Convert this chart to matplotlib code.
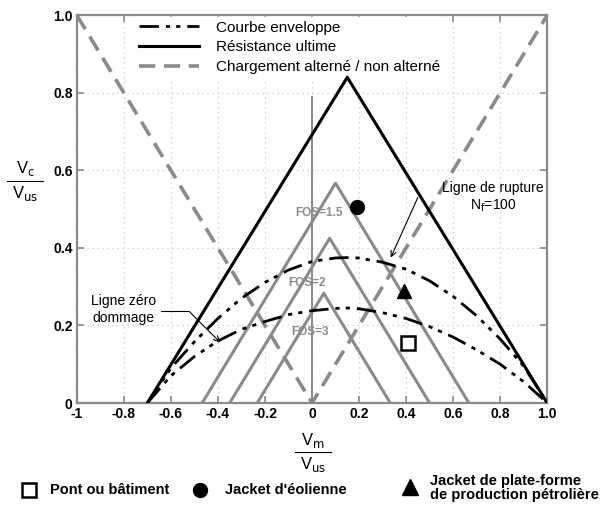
import numpy as np
import matplotlib
matplotlib.use("Agg")
import matplotlib.pyplot as plt

plt.rcParams['font.family'] = ['Liberation Sans', 'DejaVu Sans']

# resistance ultime (triangle)
ult_x = [-0.7, 0.15, 1.0]
ult_y = [0.0, 0.84, 0.0]

# chargement alterne / non alterne
alt_x = [-1.0, 0.0, 1.0]
alt_y = [1.0, 0.0, 1.0]

# FOS triangles
fos_labels = ["FOS=1.5", "FOS=2", "FOS=3"]
fos_x = [[-0.467, 0.1, 0.667], [-0.35, 0.075, 0.5], [-0.233, 0.05, 0.333]]
fos_y = [[0.0, 0.567, 0.0], [0.0, 0.425, 0.0], [0.0, 0.283, 0.0]]
fos_text_pos = [(0.03, 0.49), (-0.02, 0.31), (-0.01, 0.184)]

# courbes enveloppes
env_x = [-0.7, -0.6, -0.5, -0.4, -0.3, -0.2, -0.1, 0.0, 0.1, 0.15, 0.2,
         0.3, 0.4, 0.5, 0.6, 0.7, 0.8, 0.9, 1.0]
env_up = [0.0, 0.09, 0.158, 0.218, 0.27, 0.311, 0.343, 0.365, 0.374, 0.375,
          0.374, 0.363, 0.345, 0.315, 0.275, 0.225, 0.165, 0.095, 0.0]
env_lo = [0.0, 0.07, 0.12, 0.16, 0.19, 0.21, 0.228, 0.238, 0.244, 0.245,
          0.243, 0.233, 0.218, 0.197, 0.17, 0.137, 0.1, 0.055, 0.0]

# structures
pont = (0.41, 0.154)
eolienne = (0.19, 0.506)
plateforme = (0.393, 0.289)

grey = '#8a8a8a'
env_dash = (7, 2.5, 1.5, 2.2, 1.5, 2.5)

fig = plt.figure(figsize=(6.0, 5.17), dpi=100)
ax = fig.add_axes([0.128, 0.2205, 0.784, 0.75])

ax.plot(env_x, env_up, color='black', lw=2.0, dashes=env_dash,
        label='Courbe enveloppe', zorder=4)
ax.plot(env_x, env_lo, color='black', lw=2.0, dashes=env_dash, zorder=4)
ax.plot(ult_x, ult_y, color='black', lw=2.2, label='Résistance ultime', zorder=4)
ax.plot(alt_x, alt_y, color=grey, lw=2.6, dashes=(4.5, 2.4),
        label='Chargement alterné / non alterné', zorder=3)
for xs, ys in zip(fos_x, fos_y):
    ax.plot(xs, ys, color=grey, lw=2.2, zorder=3)
ax.plot([0, 0], [0, 0.79], color=grey, lw=1.4, zorder=2)

for lab, (tx, ty) in zip(fos_labels, fos_text_pos):
    ax.text(tx, ty, lab, color=grey, fontsize=8.5, fontweight='bold',
            ha='center', va='center', zorder=5)

ax.plot(*pont, marker='s', ms=10, mfc='white', mec='black', mew=1.8, zorder=6)
ax.plot(*eolienne, marker='o', ms=10, color='black', zorder=6)
ax.plot(*plateforme, marker='^', ms=10, color='black', zorder=6)

ax.text(0.77, 0.53, 'Ligne de rupture\nN$_{\\mathrm{f}}$=100', ha='center',
        va='center', fontsize=10, zorder=7)
ax.annotate('', xy=(0.335, 0.375), xytext=(0.45, 0.53),
            arrowprops=dict(arrowstyle='->', color='black', lw=0.8,
                            shrinkA=0, shrinkB=0), zorder=7)
ax.text(-0.8, 0.241, 'Ligne zéro\ndommage', ha='center', va='center',
        fontsize=10, zorder=7)
ax.annotate('', xy=(-0.39, 0.156), xytext=(-0.64, 0.236),
            arrowprops=dict(arrowstyle='->', color='black', lw=0.8,
                            shrinkA=0, shrinkB=0,
                            connectionstyle='angle,angleA=0,angleB=135,rad=0'),
            zorder=7)

ax.set_xlim(-1, 1)
ax.set_ylim(0, 1)
ax.set_xticks([-1, -0.8, -0.6, -0.4, -0.2, 0, 0.2, 0.4, 0.6, 0.8, 1.0])
ax.set_xticklabels(['-1', '-0.8', '-0.6', '-0.4', '-0.2', '0', '0.2', '0.4',
                    '0.6', '0.8', '1.0'])
ax.set_yticks([0, 0.2, 0.4, 0.6, 0.8, 1.0])
ax.set_yticklabels(['0', '0.2', '0.4', '0.6', '0.8', '1.0'])
ax.tick_params(direction='in', top=True, right=True, length=5, width=1.2,
               color=grey, labelsize=10, pad=3)
for lab in ax.get_xticklabels() + ax.get_yticklabels():
    lab.set_fontweight('bold')
for sp in ax.spines.values():
    sp.set_color(grey)
    sp.set_linewidth(1.6)
ax.grid(True, color='#c8c8c8', linestyle=(0, (1, 3)), lw=0.9)
ax.set_axisbelow(True)

leg = ax.legend(loc='upper left', bbox_to_anchor=(0.125, 0.996), frameon=True,
                fontsize=11, handlelength=3.9, borderpad=0.25, labelspacing=0.38,
                handletextpad=1.1, borderaxespad=0)
leg.get_frame().set_edgecolor('white')
leg.get_frame().set_alpha(1.0)
leg.set_zorder(3.5)

# axis labels as fractions
fig.text(0.042, 0.655, 'V$_{\\mathrm{c}}$', ha='center', va='bottom', fontsize=12)
fig.text(0.042, 0.645, 'V$_{\\mathrm{us}}$', ha='center', va='top', fontsize=12)
fig.add_artist(plt.Line2D([0.012, 0.072], [0.65, 0.65], color='black', lw=0.8))
fig.text(0.522, 0.13, 'V$_{\\mathrm{m}}$', ha='center', va='bottom', fontsize=12)
fig.text(0.522, 0.12, 'V$_{\\mathrm{us}}$', ha='center', va='top', fontsize=12)
fig.add_artist(plt.Line2D([0.492, 0.552], [0.125, 0.125], color='black', lw=0.8))

# bottom legend
fig.add_artist(plt.Line2D([0.048], [0.053], marker='s', ms=10, mfc='white',
                          mec='black', mew=1.8))
fig.text(0.083, 0.053, 'Pont ou bâtiment', fontsize=10.5, fontweight='bold', va='center')
fig.add_artist(plt.Line2D([0.333], [0.053], marker='o', ms=10, color='black'))
fig.text(0.375, 0.053, "Jacket d'éolienne", fontsize=10.5, fontweight='bold', va='center')
fig.add_artist(plt.Line2D([0.683], [0.058], marker='^', ms=11, color='black'))
fig.text(0.717, 0.056, 'Jacket de plate-forme\nde production pétrolière', fontsize=10.5,
         fontweight='bold', va='center', linespacing=0.95)

fig.savefig('out.png', dpi=100)
